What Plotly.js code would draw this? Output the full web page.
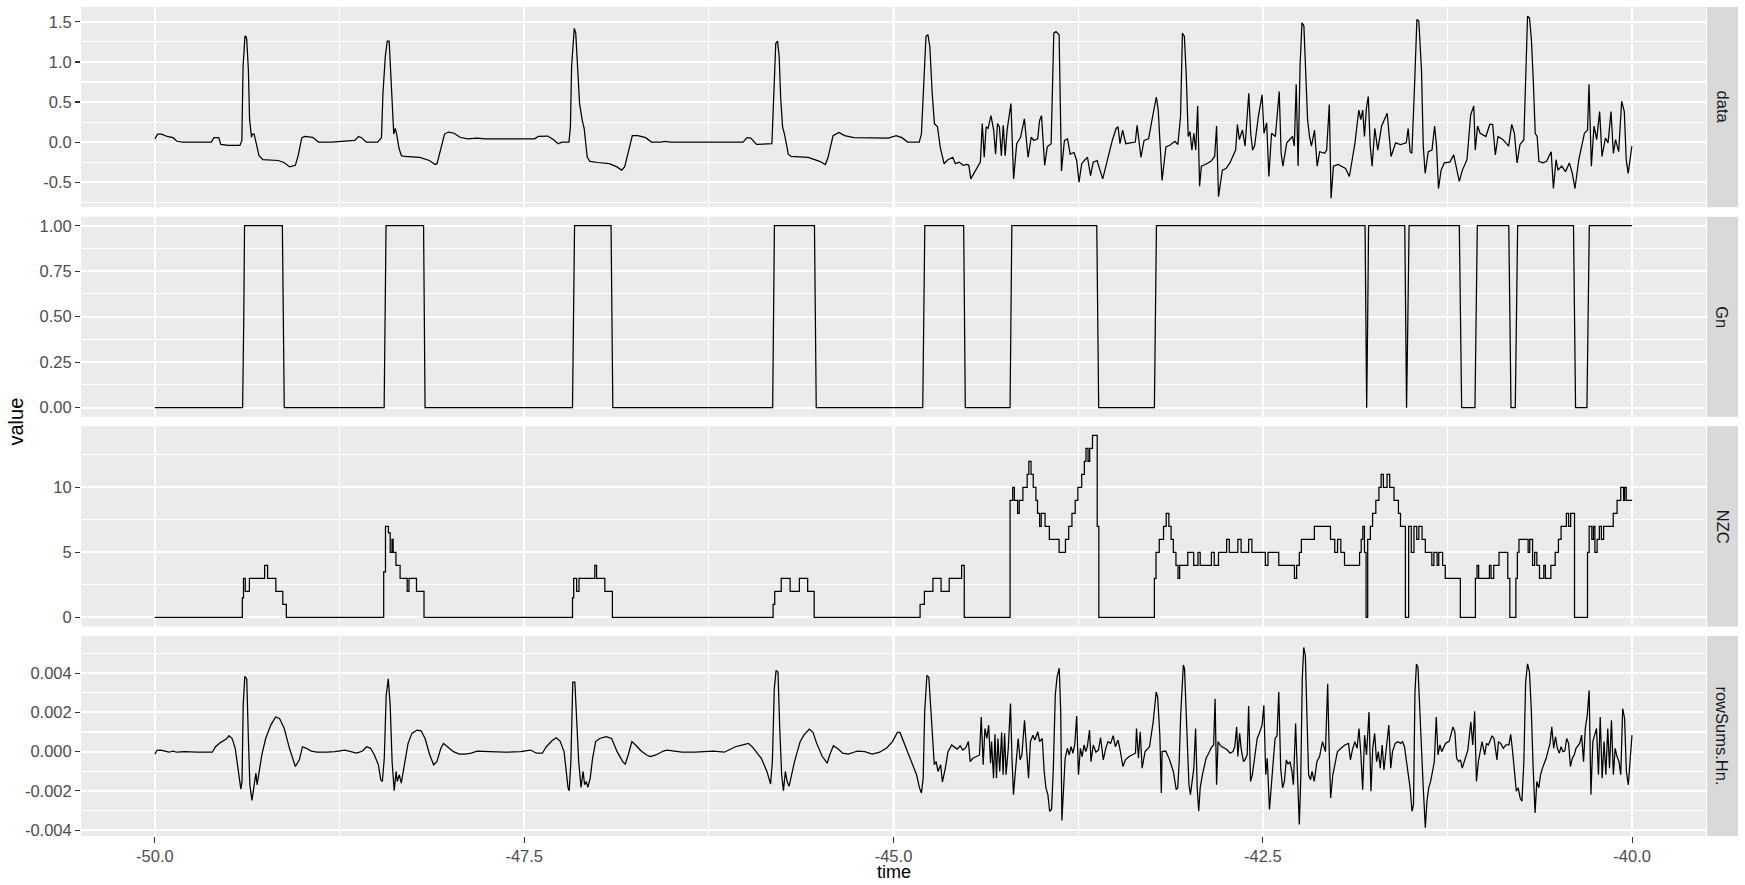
<!DOCTYPE html>
<html>
<head>
<meta charset="utf-8">
<script src="https://cdn.plot.ly/plotly-3.0.1.min.js"></script>
<style>
  html, body { margin: 0; padding: 0; background: #ffffff; }
  #chart { width: 1745px; height: 885px; }
</style>
</head>
<body>
<div id="chart"></div>
<script>
// ---------- data ----------
const panelNames = ['data', 'Gn', 'NZC', 'rowSums.Hn.'];

const dataTime = [-50.000,-49.981,-49.955,-49.916,-49.877,-49.851,-49.813,-49.618,-49.600,-49.567,-49.554,-49.502,-49.424,-49.411,-49.403,-49.390,-49.383,-49.378,-49.367,-49.359,-49.346,-49.341,-49.328,-49.315,-49.295,-49.269,-49.165,-49.126,-49.087,-49.049,-49.030,-49.005,-48.984,-48.932,-48.893,-48.803,-48.725,-48.647,-48.621,-48.601,-48.570,-48.492,-48.466,-48.456,-48.440,-48.427,-48.414,-48.404,-48.393,-48.383,-48.373,-48.363,-48.347,-48.331,-48.311,-48.207,-48.142,-48.103,-48.090,-48.072,-48.039,-48.013,-47.974,-47.935,-47.883,-47.819,-47.767,-47.430,-47.404,-47.340,-47.301,-47.270,-47.244,-47.197,-47.187,-47.179,-47.169,-47.161,-47.151,-47.140,-47.125,-47.107,-47.094,-47.073,-47.055,-47.002,-46.924,-46.872,-46.841,-46.820,-46.794,-46.768,-46.730,-46.678,-46.639,-46.574,-46.548,-46.510,-46.018,-45.992,-45.966,-45.927,-45.823,-45.810,-45.797,-45.785,-45.774,-45.764,-45.751,-45.738,-45.728,-45.712,-45.694,-45.577,-45.500,-45.461,-45.443,-45.409,-45.370,-45.331,-45.267,-45.034,-44.982,-44.943,-44.904,-44.826,-44.811,-44.795,-44.780,-44.767,-44.754,-44.738,-44.723,-44.702,-44.684,-44.658,-44.632,-44.599,-44.581,-44.555,-44.529,-44.503,-44.490,-44.477,-44.451,-44.412,-44.399,-44.386,-44.373,-44.360,-44.340,-44.322,-44.309,-44.296,-44.283,-44.270,-44.257,-44.244,-44.231,-44.205,-44.187,-44.166,-44.140,-44.114,-44.089,-44.068,-44.050,-44.024,-44.011,-43.998,-43.977,-43.959,-43.933,-43.915,-43.900,-43.879,-43.863,-43.843,-43.822,-43.804,-43.778,-43.760,-43.744,-43.726,-43.708,-43.687,-43.666,-43.648,-43.622,-43.604,-43.584,-43.558,-43.519,-43.493,-43.480,-43.467,-43.449,-43.428,-43.402,-43.363,-43.351,-43.338,-43.325,-43.304,-43.273,-43.247,-43.221,-43.208,-43.195,-43.182,-43.156,-43.130,-43.095,-43.075,-43.057,-43.044,-43.031,-43.018,-43.005,-42.993,-42.980,-42.967,-42.954,-42.941,-42.928,-42.916,-42.890,-42.851,-42.826,-42.813,-42.800,-42.787,-42.774,-42.749,-42.723,-42.684,-42.672,-42.659,-42.638,-42.620,-42.595,-42.582,-42.569,-42.556,-42.530,-42.505,-42.492,-42.474,-42.459,-42.441,-42.415,-42.389,-42.376,-42.364,-42.338,-42.299,-42.287,-42.274,-42.261,-42.248,-42.235,-42.222,-42.210,-42.197,-42.184,-42.171,-42.150,-42.132,-42.115,-42.081,-42.068,-42.050,-42.038,-42.022,-41.991,-41.940,-41.914,-41.876,-41.863,-41.850,-41.837,-41.824,-41.812,-41.799,-41.786,-41.773,-41.760,-41.742,-41.722,-41.696,-41.658,-41.632,-41.601,-41.568,-41.529,-41.516,-41.503,-41.491,-41.473,-41.457,-41.444,-41.426,-41.414,-41.401,-41.380,-41.355,-41.337,-41.324,-41.311,-41.293,-41.272,-41.234,-41.208,-41.183,-41.170,-41.149,-41.118,-41.093,-41.072,-41.062,-41.046,-41.029,-40.990,-40.964,-40.944,-40.926,-40.908,-40.874,-40.836,-40.815,-40.797,-40.779,-40.759,-40.733,-40.720,-40.708,-40.695,-40.682,-40.669,-40.656,-40.643,-40.631,-40.605,-40.579,-40.548,-40.533,-40.515,-40.502,-40.477,-40.451,-40.425,-40.405,-40.387,-40.361,-40.323,-40.302,-40.292,-40.276,-40.258,-40.240,-40.220,-40.204,-40.181,-40.163,-40.143,-40.127,-40.112,-40.091,-40.071,-40.053,-40.040,-40.027,-40.014,-40.002];
const dataValue = [0.04,0.10,0.10,0.07,0.055,0.01,0.0,0.0,0.055,0.055,-0.03,-0.04,-0.04,0.02,0.94,1.32,1.32,1.28,0.90,0.29,0.06,0.10,0.10,-0.02,-0.17,-0.22,-0.23,-0.255,-0.31,-0.29,-0.17,0.055,0.07,0.06,0.0,0.0,0.01,0.02,0.07,0.055,0.0,0.0,0.055,0.61,1.07,1.26,1.26,0.82,0.48,0.10,0.17,0.10,-0.08,-0.17,-0.18,-0.19,-0.23,-0.28,-0.27,-0.15,0.10,0.125,0.11,0.06,0.04,0.05,0.04,0.04,0.07,0.075,0.03,-0.02,0.0,0.0,0.19,0.94,1.28,1.42,1.36,1.03,0.48,0.27,0.17,-0.19,-0.24,-0.255,-0.27,-0.31,-0.35,-0.31,-0.10,0.08,0.08,0.055,0.0,0.0,0.01,0.0,0.0,0.055,0.05,-0.03,-0.02,0.69,1.23,1.26,1.07,0.56,0.19,0.10,0.02,-0.15,-0.18,-0.19,-0.24,-0.28,-0.19,0.08,0.12,0.08,0.055,0.05,0.08,0.055,0.0,0.0,0.10,0.73,1.32,1.34,1.19,0.61,0.23,0.19,-0.06,-0.27,-0.22,-0.19,-0.27,-0.25,-0.29,-0.28,-0.29,-0.46,-0.38,-0.25,0.23,-0.19,0.19,0.17,0.33,0.15,-0.15,0.23,0.19,-0.17,0.21,-0.17,0.15,0.48,-0.46,-0.02,0.06,0.29,-0.19,0.06,0.02,0.04,0.27,0.33,-0.29,-0.06,-0.02,1.36,1.38,1.34,-0.36,0.02,0.04,-0.15,-0.13,-0.23,-0.50,-0.27,-0.23,-0.19,-0.42,-0.25,-0.23,-0.33,-0.46,-0.27,0.02,0.17,0.19,-0.02,0.15,-0.02,-0.01,0.0,0.21,0.02,-0.19,0.02,0.04,0.31,0.56,0.40,-0.13,-0.48,-0.06,-0.04,0.01,-0.03,0.32,1.36,1.32,0.82,0.07,0.13,-0.10,0.11,-0.10,0.45,-0.55,-0.30,-0.28,-0.24,-0.18,0.20,-0.68,-0.51,-0.35,-0.33,-0.26,-0.10,0.22,0.03,0.15,-0.05,0.61,0.11,-0.10,-0.05,0.32,0.59,0.11,0.24,-0.43,0.11,0.07,0.63,-0.14,-0.30,-0.01,0.07,-0.05,0.72,-0.30,0.95,1.49,1.45,0.97,0.28,0.07,-0.05,0.15,-0.30,-0.12,-0.14,-0.10,0.47,-0.70,-0.30,-0.28,-0.33,-0.43,-0.01,0.20,0.40,0.28,0.40,0.07,0.42,0.57,-0.05,-0.30,0.17,-0.10,0.20,0.36,-0.18,-0.01,-0.03,-0.01,0.17,-0.12,-0.14,0.70,1.53,1.51,0.90,-0.05,-0.39,-0.12,-0.10,0.20,-0.05,-0.58,-0.35,-0.26,-0.25,-0.16,-0.39,-0.49,-0.35,-0.22,0.34,0.45,-0.10,0.20,0.11,0.07,0.22,0.22,-0.16,0.07,0.03,-0.05,0.22,0.11,-0.26,-0.03,0.03,0.82,1.57,1.55,1.28,0.76,0.11,0.07,-0.24,-0.26,-0.24,-0.12,-0.58,-0.22,-0.35,-0.30,-0.37,-0.26,-0.39,-0.58,-0.22,0.11,0.15,0.72,-0.30,0.20,0.03,0.38,-0.18,0.05,-0.01,0.38,-0.14,0.03,-0.12,0.51,0.38,-0.22,-0.39,-0.22,-0.05];

const gnTime = [-50.000,-49.406,-49.398,-49.393,-49.137,-49.131,-49.124,-48.448,-48.440,-48.435,-48.181,-48.176,-48.171,-47.173,-47.166,-47.159,-46.912,-46.906,-46.900,-45.818,-45.812,-45.806,-45.535,-45.529,-45.523,-44.802,-44.795,-44.788,-44.525,-44.520,-44.514,-44.211,-44.204,-44.199,-43.624,-43.618,-43.611,-43.234,-43.228,-43.220,-41.808,-41.803,-41.797,-41.790,-41.784,-41.539,-41.534,-41.527,-41.518,-41.510,-41.170,-41.162,-41.154,-41.064,-41.057,-41.048,-40.835,-40.828,-40.820,-40.791,-40.784,-40.775,-40.397,-40.390,-40.383,-40.306,-40.299,-40.290,-40.000];
const gnValue = [0, 0,0.5,1, 1,0.5,0, 0,0.5,1, 1,0.5,0, 0,0.5,1, 1,0.5,0, 0,0.5,1, 1,0.5,0, 0,0.5,1, 1,0.5,0, 0,0.5,1, 1,0.5,0, 0,0.5,1, 1,0.5,0,0.5,1, 1,0.5,0,0.5,1, 1,0.5,0,0,0.5,1, 1,0.5,0,0,0.5,1, 1,0.5,0,0,0.5,1, 1];

const nzcTime = [-50.000,-49.408,-49.400,-49.388,-49.360,-49.257,-49.237,-49.181,-49.134,-49.110,-48.451,-48.439,-48.419,-48.407,-48.395,-48.387,-48.368,-48.340,-48.292,-48.280,-48.229,-48.178,-47.173,-47.165,-47.145,-47.129,-47.022,-47.010,-46.954,-46.903,-45.815,-45.804,-45.760,-45.700,-45.637,-45.581,-45.537,-44.820,-44.791,-44.733,-44.678,-44.623,-44.539,-44.521,-44.211,-44.193,-44.182,-44.160,-44.149,-44.124,-44.095,-44.084,-44.069,-44.054,-44.036,-44.025,-44.011,-44.000,-43.974,-43.945,-43.879,-43.836,-43.814,-43.792,-43.770,-43.752,-43.726,-43.708,-43.697,-43.683,-43.672,-43.653,-43.621,-43.610,-43.234,-43.223,-43.201,-43.172,-43.154,-43.136,-43.121,-43.106,-43.088,-43.074,-43.063,-43.008,-42.968,-42.939,-42.924,-42.848,-42.829,-42.800,-42.745,-42.727,-42.669,-42.647,-42.596,-42.574,-42.483,-42.465,-42.392,-42.286,-42.271,-42.253,-42.239,-42.151,-42.042,-42.013,-41.994,-41.972,-41.947,-41.845,-41.834,-41.823,-41.812,-41.801,-41.790,-41.772,-41.757,-41.735,-41.714,-41.699,-41.684,-41.659,-41.641,-41.612,-41.582,-41.568,-41.535,-41.513,-41.495,-41.477,-41.458,-41.444,-41.422,-41.400,-41.356,-41.342,-41.320,-41.309,-41.283,-41.265,-41.163,-41.061,-41.050,-41.039,-40.966,-40.955,-40.937,-40.901,-40.842,-40.828,-40.787,-40.777,-40.766,-40.704,-40.693,-40.674,-40.660,-40.645,-40.627,-40.598,-40.587,-40.550,-40.521,-40.499,-40.481,-40.445,-40.430,-40.416,-40.390,-40.302,-40.291,-40.273,-40.262,-40.252,-40.237,-40.222,-40.208,-40.193,-40.128,-40.102,-40.077,-40.058,-40.051,-40.040,-40.000];
const nzcValue = [0,1.5,3,2,3,4,3,2,1,0,3.5,7,6.5,5,6,5,4,3,2,3,2,0,1.5,3,2,3,4,3,2,0,1,2,3,2,3,2,0,1,2,3,2,3,4,0,9,10,9,8,9,10,11,12,11,10,9,8,7,8,7,6,5,6,7,8,9,10,11,12,13,12,13,14,7,0,3,5,6,7,8,7,6,5,4,3,4,5,4,5,4,5,4,5,6,5,6,5,6,5,4,5,4,3,4,5,6,7,6,5,6,5,4,5,6,7,5,0,6,7,8,9,10,11,10,11,10,9,8,7,0,7,5,7,6,7,6,5,4,5,4,5,4,3,0,3,4,3,4,3,4,5,3,0,3,5,6,5,6,4,5,4,3,4,3,4,5,6,7,8,7,8,0,5,7,6,7,5,6,7,6,7,8,9,10,9,10,9,9];

const rsTime = [-50.000,-49.985,-49.959,-49.932,-49.905,-49.878,-49.852,-49.798,-49.718,-49.611,-49.589,-49.557,-49.517,-49.498,-49.477,-49.456,-49.437,-49.418,-49.410,-49.402,-49.391,-49.378,-49.367,-49.357,-49.343,-49.330,-49.316,-49.308,-49.295,-49.276,-49.250,-49.215,-49.183,-49.156,-49.124,-49.089,-49.049,-49.022,-49.001,-48.974,-48.942,-48.902,-48.835,-48.781,-48.714,-48.674,-48.634,-48.594,-48.567,-48.540,-48.514,-48.487,-48.471,-48.460,-48.447,-48.434,-48.420,-48.407,-48.394,-48.380,-48.367,-48.359,-48.345,-48.332,-48.313,-48.286,-48.260,-48.225,-48.198,-48.171,-48.139,-48.113,-48.091,-48.064,-48.046,-48.019,-47.979,-47.939,-47.899,-47.859,-47.818,-47.738,-47.631,-47.524,-47.457,-47.417,-47.377,-47.350,-47.310,-47.283,-47.257,-47.230,-47.203,-47.195,-47.184,-47.171,-47.157,-47.144,-47.131,-47.115,-47.101,-47.091,-47.080,-47.069,-47.053,-47.037,-47.016,-46.989,-46.946,-46.908,-46.871,-46.833,-46.816,-46.796,-46.771,-46.746,-46.708,-46.671,-46.646,-46.608,-46.558,-46.533,-46.495,-46.433,-46.345,-46.295,-46.220,-46.145,-46.070,-46.020,-45.982,-45.957,-45.932,-45.895,-45.857,-45.832,-45.820,-45.807,-45.795,-45.782,-45.770,-45.757,-45.745,-45.732,-45.720,-45.707,-45.690,-45.670,-45.632,-45.607,-45.570,-45.545,-45.520,-45.482,-45.449,-45.432,-45.407,-45.374,-45.344,-45.307,-45.269,-45.244,-45.194,-45.144,-45.094,-45.044,-45.007,-44.974,-44.956,-44.931,-44.899,-44.869,-44.844,-44.824,-44.811,-44.799,-44.789,-44.774,-44.761,-44.749,-44.736,-44.724,-44.711,-44.699,-44.681,-44.669,-44.649,-44.631,-44.606,-44.589,-44.569,-44.549,-44.531,-44.511,-44.493,-44.481,-44.463,-44.438,-44.418,-44.406,-44.393,-44.381,-44.368,-44.356,-44.343,-44.336,-44.323,-44.313,-44.303,-44.293,-44.281,-44.268,-44.258,-44.248,-44.238,-44.223,-44.208,-44.198,-44.188,-44.173,-44.156,-44.143,-44.131,-44.113,-44.098,-44.086,-44.073,-44.056,-44.043,-44.023,-44.011,-43.993,-43.980,-43.968,-43.955,-43.943,-43.930,-43.918,-43.905,-43.893,-43.878,-43.868,-43.860,-43.848,-43.838,-43.823,-43.810,-43.798,-43.785,-43.773,-43.760,-43.748,-43.735,-43.723,-43.710,-43.698,-43.688,-43.673,-43.663,-43.648,-43.630,-43.613,-43.598,-43.580,-43.563,-43.548,-43.530,-43.513,-43.498,-43.480,-43.468,-43.447,-43.430,-43.405,-43.380,-43.362,-43.355,-43.342,-43.330,-43.317,-43.297,-43.267,-43.242,-43.222,-43.212,-43.197,-43.187,-43.182,-43.157,-43.131,-43.106,-43.086,-43.076,-43.066,-43.056,-43.045,-43.038,-43.030,-43.020,-43.010,-43.000,-42.990,-42.980,-42.967,-42.955,-42.944,-42.934,-42.924,-42.909,-42.899,-42.884,-42.866,-42.849,-42.833,-42.823,-42.813,-42.803,-42.790,-42.778,-42.758,-42.740,-42.722,-42.702,-42.690,-42.677,-42.669,-42.657,-42.647,-42.631,-42.621,-42.606,-42.596,-42.583,-42.571,-42.556,-42.538,-42.520,-42.505,-42.493,-42.480,-42.470,-42.455,-42.442,-42.430,-42.417,-42.404,-42.392,-42.379,-42.366,-42.354,-42.341,-42.329,-42.316,-42.303,-42.293,-42.278,-42.268,-42.253,-42.243,-42.233,-42.223,-42.212,-42.202,-42.190,-42.177,-42.167,-42.152,-42.134,-42.116,-42.096,-42.076,-42.061,-42.051,-42.041,-42.026,-42.010,-41.995,-41.970,-41.945,-41.920,-41.907,-41.894,-41.877,-41.862,-41.849,-41.836,-41.824,-41.811,-41.798,-41.781,-41.768,-41.756,-41.743,-41.730,-41.718,-41.705,-41.692,-41.680,-41.662,-41.647,-41.634,-41.622,-41.604,-41.586,-41.566,-41.554,-41.541,-41.528,-41.516,-41.503,-41.490,-41.480,-41.470,-41.460,-41.450,-41.440,-41.427,-41.415,-41.400,-41.389,-41.377,-41.364,-41.339,-41.326,-41.314,-41.301,-41.289,-41.263,-41.238,-41.213,-41.200,-41.188,-41.175,-41.162,-41.150,-41.132,-41.112,-41.092,-41.079,-41.066,-41.054,-41.041,-41.031,-41.016,-40.998,-40.986,-40.973,-40.960,-40.948,-40.935,-40.915,-40.905,-40.890,-40.872,-40.854,-40.834,-40.822,-40.809,-40.796,-40.784,-40.771,-40.758,-40.746,-40.733,-40.721,-40.708,-40.695,-40.683,-40.670,-40.657,-40.645,-40.632,-40.620,-40.607,-40.582,-40.556,-40.544,-40.531,-40.519,-40.506,-40.493,-40.481,-40.468,-40.456,-40.443,-40.430,-40.418,-40.405,-40.392,-40.380,-40.355,-40.342,-40.329,-40.317,-40.304,-40.291,-40.279,-40.266,-40.254,-40.241,-40.228,-40.216,-40.203,-40.190,-40.178,-40.165,-40.153,-40.140,-40.127,-40.115,-40.102,-40.089,-40.077,-40.064,-40.051,-40.039,-40.026,-40.014,-40.001];
const rsValue = [-0.13e-3,0.07e-3,0.08e-3,0.03e-3,-0.03e-3,0.03e-3,-0.03e-3,0.0,-0.03e-3,-0.03e-3,0.25e-3,0.46e-3,0.64e-3,0.81e-3,0.67e-3,0.17e-3,-0.84e-3,-1.91e-3,-1.52e-3,2.36e-3,3.84e-3,3.71e-3,0.67e-3,-1.69e-3,-2.48e-3,-1.69e-3,-1.10e-3,-1.69e-3,-1.05e-3,-0.17e-3,0.67e-3,1.35e-3,1.77e-3,1.69e-3,1.18e-3,0.17e-3,-0.76e-3,-0.42e-3,0.25e-3,0.17e-3,0.03e-3,-0.03e-3,-0.03e-3,0.0,0.08e-3,0.0,-0.08e-3,0.03e-3,0.25e-3,0.17e-3,-0.17e-3,-0.67e-3,-1.43e-3,-1.52e-3,-0.34e-3,2.87e-3,3.71e-3,2.36e-3,-0.51e-3,-1.99e-3,-1.01e-3,-1.52e-3,-1.18e-3,-1.60e-3,-0.84e-3,0.42e-3,0.93e-3,1.10e-3,1.06e-3,0.67e-3,-0.17e-3,-0.67e-3,-0.51e-3,0.17e-3,0.42e-3,0.25e-3,0.0,-0.13e-3,-0.13e-3,-0.08e-3,0.03e-3,0.0,-0.03e-3,0.0,0.08e-3,-0.08e-3,-0.08e-3,0.25e-3,0.57e-3,0.71e-3,0.54e-3,0.0,-1.85e-3,-1.99e-3,-0.51e-3,3.54e-3,3.54e-3,1.52e-3,-0.51e-3,-1.82e-3,-1.01e-3,-1.69e-3,-1.52e-3,-1.82e-3,-1.35e-3,-0.34e-3,0.51e-3,0.67e-3,0.76e-3,0.67e-3,0.0,-0.51e-3,-0.64e-3,-0.17e-3,0.51e-3,0.34e-3,0.03e-3,-0.17e-3,-0.25e-3,-0.17e-3,0.03e-3,0.08e-3,0.03e-3,-0.03e-3,-0.03e-3,0.0,0.03e-3,-0.03e-3,0.25e-3,0.34e-3,0.42e-3,0.25e-3,0.0,-0.34e-3,-1.01e-3,-1.65e-3,-0.51e-3,3.20e-3,4.13e-3,4.05e-3,1.18e-3,-1.18e-3,-1.99e-3,-1.01e-3,-1.52e-3,-1.77e-3,-1.18e-3,-0.51e-3,0.51e-3,0.84e-3,1.15e-3,0.98e-3,0.42e-3,-0.25e-3,-0.59e-3,-0.17e-3,0.30e-3,0.13e-3,-0.08e-3,-0.13e-3,-0.03e-3,0.03e-3,0.0,-0.13e-3,-0.03e-3,0.20e-3,0.51e-3,0.98e-3,0.98e-3,0.51e-3,-0.08e-3,-0.67e-3,-1.18e-3,-1.85e-3,-2.11e-3,-1.35e-3,2.02e-3,3.88e-3,3.79e-3,2.36e-3,0.67e-3,-0.67e-3,-0.51e-3,-1.01e-3,-0.67e-3,-1.55e-3,-0.84e-3,0.0,0.34e-3,0.25e-3,0.13e-3,0.30e-3,0.08e-3,0.20e-3,0.51e-3,-0.51e-3,-0.34e-3,-0.25e-3,-0.17e-3,1.77e-3,-0.67e-3,1.18e-3,0.67e-3,1.35e-3,-0.59e-3,0.51e-3,-1.35e-3,0.88e-3,-1.35e-3,0.67e-3,-1.01e-3,0.98e-3,-1.18e-3,0.93e-3,-1.18e-3,0.17e-3,2.45e-3,-0.34e-3,-2.19e-3,-0.84e-3,0.67e-3,-0.42e-3,-0.17e-3,1.60e-3,-0.17e-3,-1.35e-3,0.51e-3,0.84e-3,0.59e-3,1.01e-3,0.51e-3,0.67e-3,-1.01e-3,-1.85e-3,-2.19e-3,-3.04e-3,-2.95e-3,-0.84e-3,2.87e-3,3.79e-3,4.25e-3,2.02e-3,-3.51e-3,-1.69e-3,-0.34e-3,0.17e-3,-0.17e-3,0.25e-3,-0.08e-3,0.37e-3,1.82e-3,-1.18e-3,0.17e-3,-0.25e-3,0.34e-3,0.0,0.25e-3,1.10e-3,-0.51e-3,0.34e-3,-0.03e-3,0.08e-3,0.71e-3,-0.42e-3,0.17e-3,0.51e-3,0.42e-3,0.81e-3,0.25e-3,0.59e-3,0.17e-3,-0.76e-3,-0.42e-3,-0.25e-3,-0.13e-3,-0.08e-3,1.18e-3,-0.34e-3,1.01e-3,-0.84e-3,0.0,0.25e-3,1.52e-3,3.04e-3,2.78e-3,0.84e-3,-2.11e-3,0.0,0.03e-3,-0.42e-3,-1.01e-3,-1.94e-3,-1.85e-3,-0.51e-3,1.85e-3,3.88e-3,4.42e-3,4.22e-3,2.02e-3,0.0,-1.69e-3,-2.19e-3,-1.52e-3,-0.84e-3,1.18e-3,-1.85e-3,-3.04e-3,-1.85e-3,-1.18e-3,-0.84e-3,-0.34e-3,-0.08e-3,0.20e-3,0.34e-3,2.70e-3,-1.69e-3,0.51e-3,0.34e-3,0.25e-3,0.17e-3,0.08e-3,-0.08e-3,0.0,0.25e-3,1.26e-3,-0.25e-3,0.93e-3,0.17e-3,-0.51e-3,-0.42e-3,-0.17e-3,2.33e-3,-1.52e-3,-1.18e-3,-0.34e-3,0.67e-3,1.01e-3,1.35e-3,2.36e-3,-1.18e-3,-0.34e-3,-2.95e-3,-1.69e-3,-0.42e-3,0.67e-3,0.81e-3,3.04e-3,-0.84e-3,-1.85e-3,-1.52e-3,-0.42e-3,-0.64e-3,-0.51e-3,-1.01e-3,-1.69e-3,1.43e-3,-0.34e-3,-3.71e-3,-1.35e-3,3.71e-3,5.31e-3,4.89e-3,2.02e-3,-1.18e-3,-1.43e-3,-1.01e-3,-1.52e-3,-0.51e-3,-0.25e-3,0.51e-3,0.0,3.46e-3,0.17e-3,-2.36e-3,-1.18e-3,-0.51e-3,0.0,0.17e-3,0.34e-3,0.42e-3,-0.42e-3,0.08e-3,0.51e-3,0.17e-3,1.18e-3,-0.17e-3,-1.94e-3,0.84e-3,-0.17e-3,2.02e-3,-2.02e-3,0.17e-3,0.93e-3,-0.51e-3,0.0,-0.84e-3,0.34e-3,-0.93e-3,0.34e-3,1.35e-3,-0.84e-3,0.0,0.42e-3,0.51e-3,0.42e-3,0.51e-3,0.25e-3,-0.51e-3,-1.18e-3,-1.85e-3,-3.04e-3,-2.70e-3,3.04e-3,4.47e-3,4.30e-3,2.36e-3,0.34e-3,-1.69e-3,-3.88e-3,-2.53e-3,-1.85e-3,-1.52e-3,-0.51e-3,1.77e-3,-0.17e-3,0.34e-3,0.0,0.42e-3,0.54e-3,1.26e-3,1.01e-3,-0.34e-3,-0.51e-3,-0.42e-3,-0.84e-3,-0.42e-3,0.08e-3,1.52e-3,0.34e-3,2.06e-3,-1.52e-3,-0.51e-3,-0.17e-3,0.51e-3,-0.17e-3,0.42e-3,0.34e-3,0.59e-3,0.81e-3,0.67e-3,-0.42e-3,0.51e-3,0.42e-3,0.17e-3,0.34e-3,0.34e-3,0.88e-3,0.0,-1.18e-3,-2.02e-3,-1.85e-3,-2.36e-3,-2.53e-3,-0.51e-3,3.54e-3,4.47e-3,4.05e-3,2.19e-3,-0.84e-3,-3.12e-3,-1.52e-3,-1.85e-3,-1.18e-3,-0.84e-3,-0.34e-3,0.42e-3,1.26e-3,0.17e-3,0.76e-3,0.17e-3,-0.08e-3,0.25e-3,0.0,0.03e-3,0.67e-3,0.42e-3,-0.76e-3,-0.34e-3,-0.17e-3,0.17e-3,0.42e-3,0.84e-3,-0.51e-3,1.18e-3,1.85e-3,3.12e-3,-2.19e-3,0.51e-3,0.84e-3,1.18e-3,-1.18e-3,1.77e-3,-1.35e-3,0.51e-3,-1.18e-3,1.18e-3,-0.84e-3,1.60e-3,-1.18e-3,0.17e-3,-0.25e-3,-0.51e-3,-1.18e-3,2.19e-3,1.69e-3,-1.01e-3,-1.69e-3,-0.51e-3,0.84e-3];

// ---------- axes / ticks ----------
const xRange = [-50.5, -39.5];
const xTickVals = [-50, -47.5, -45, -42.5, -40];
const xTickText = ['-50.0', '-47.5', '-45.0', '-42.5', '-40.0'];
const xMinorVals = [-48.75, -46.25, -43.75, -41.25];

const yRanges = [[-0.812, 1.686], [-0.05, 1.05], [-0.7, 14.7], [-0.00430, 0.00590]];
const yTickVals = [[-0.5, 0, 0.5, 1, 1.5], [0, 0.25, 0.5, 0.75, 1], [0, 5, 10], [-0.004, -0.002, 0, 0.002, 0.004]];
const yTickText = [['-0.5', '0.0', '0.5', '1.0', '1.5'], ['0.00', '0.25', '0.50', '0.75', '1.00'], ['0', '5', '10'], ['-0.004', '-0.002', '0.000', '0.002', '0.004']];
const yMinorVals = [[-0.75, -0.25, 0.25, 0.75, 1.25], [0.125, 0.375, 0.625, 0.875], [2.5, 7.5, 12.5], [-0.003, -0.001, 0.001, 0.003, 0.005]];

// ---------- layout geometry ----------
const W = 1745, H = 885;
const M = { l: 81, r: 39, t: 7, b: 49 };
const plotH = H - M.t - M.b;
const plotW = W - M.l - M.r;
const gap = 9.5;
const panelH = (plotH - 3 * gap) / 4;
const domains = [];
for (let i = 0; i < 4; i++) {
  const topPx = i * (panelH + gap);
  domains.push([1 - (topPx + panelH) / plotH, 1 - topPx / plotH]);
}
domains[3][0] = 0; domains[0][1] = 1;

const FONT = 'Liberation Sans, Arial, Helvetica, sans-serif';
const tickFont = { family: FONT, size: 16.5, color: '#4D4D4D' };

const seriesX = [dataTime, gnTime, nzcTime, rsTime];
const seriesY = [dataValue, gnValue, nzcValue, rsValue];

const traces = [];
for (let i = 0; i < 4; i++) {
  traces.push({
    type: 'scatter', mode: 'lines',
    x: seriesX[i], y: seriesY[i],
    xaxis: i === 0 ? 'x' : 'x' + (i + 1),
    yaxis: i === 0 ? 'y' : 'y' + (i + 1),
    line: { color: '#000000', width: 1.25, shape: i === 2 ? 'hv' : 'linear' },
    hoverinfo: 'skip', showlegend: false
  });
}

const layout = {
  width: W, height: H,
  margin: M,
  paper_bgcolor: '#FFFFFF',
  plot_bgcolor: '#EBEBEB',
  font: { family: FONT, color: '#000000' },
  showlegend: false,
  shapes: [],
  annotations: []
};

for (let i = 0; i < 4; i++) {
  const xn = i === 0 ? 'xaxis' : 'xaxis' + (i + 1);
  const yn = i === 0 ? 'yaxis' : 'yaxis' + (i + 1);
  const bottom = i === 3;
  layout[xn] = {
    domain: [0, 1],
    anchor: i === 0 ? 'y' : 'y' + (i + 1),
    range: xRange,
    tickmode: 'array', tickvals: xTickVals, ticktext: xTickText,
    showticklabels: bottom,
    ticks: bottom ? 'outside' : '',
    ticklen: 5.5, tickwidth: 1.1, tickcolor: '#333333',
    tickfont: tickFont,
    showgrid: true, gridcolor: '#FFFFFF', gridwidth: 2.1,
    minor: { tickmode: 'array', tickvals: xMinorVals, showgrid: true, gridcolor: '#FFFFFF', gridwidth: 1.05, ticks: '' },
    zeroline: false, showline: false, fixedrange: true
  };
  if (i > 0) layout[xn].matches = 'x';
  layout[yn] = {
    domain: domains[i],
    anchor: i === 0 ? 'x' : 'x' + (i + 1),
    range: yRanges[i],
    tickmode: 'array', tickvals: yTickVals[i], ticktext: yTickText[i],
    ticks: 'outside', ticklen: 5, tickwidth: 1.1, tickcolor: '#333333',
    tickfont: tickFont,
    showgrid: true, gridcolor: '#FFFFFF', gridwidth: 2.1,
    minor: { tickmode: 'array', tickvals: yMinorVals[i], showgrid: true, gridcolor: '#FFFFFF', gridwidth: 1.05, ticks: '' },
    zeroline: false, showline: false, fixedrange: true
  };
  const sx0 = 1 + 1 / plotW, sx1 = (1738 - M.l) / plotW;
  layout.shapes.push({
    type: 'rect', xref: 'paper', yref: 'paper',
    x0: sx0, x1: sx1, y0: domains[i][0], y1: domains[i][1],
    fillcolor: '#D9D9D9', line: { width: 0 }, layer: 'below'
  });
  layout.annotations.push({
    xref: 'paper', yref: 'paper',
    x: (sx0 + sx1) / 2, y: (domains[i][0] + domains[i][1]) / 2,
    xanchor: 'center', yanchor: 'middle',
    text: panelNames[i], textangle: 90, showarrow: false,
    font: { family: FONT, size: 16.5, color: '#1A1A1A' }
  });
}

// axis titles
layout.annotations.push({
  xref: 'paper', yref: 'paper', x: (15 - M.l) / plotW, y: 0.5,
  xanchor: 'center', yanchor: 'middle', text: 'value', textangle: -90,
  showarrow: false, font: { family: FONT, size: 20, color: '#000000' }
});
layout.annotations.push({
  xref: 'paper', yref: 'paper', x: 0.5, y: -(884 - (H - M.b)) / plotH,
  xanchor: 'center', yanchor: 'bottom', text: 'time',
  showarrow: false, font: { family: FONT, size: 18, color: '#000000' }
});

Plotly.newPlot('chart', traces, layout, { displayModeBar: false, staticPlot: true });
</script>
</body>
</html>
